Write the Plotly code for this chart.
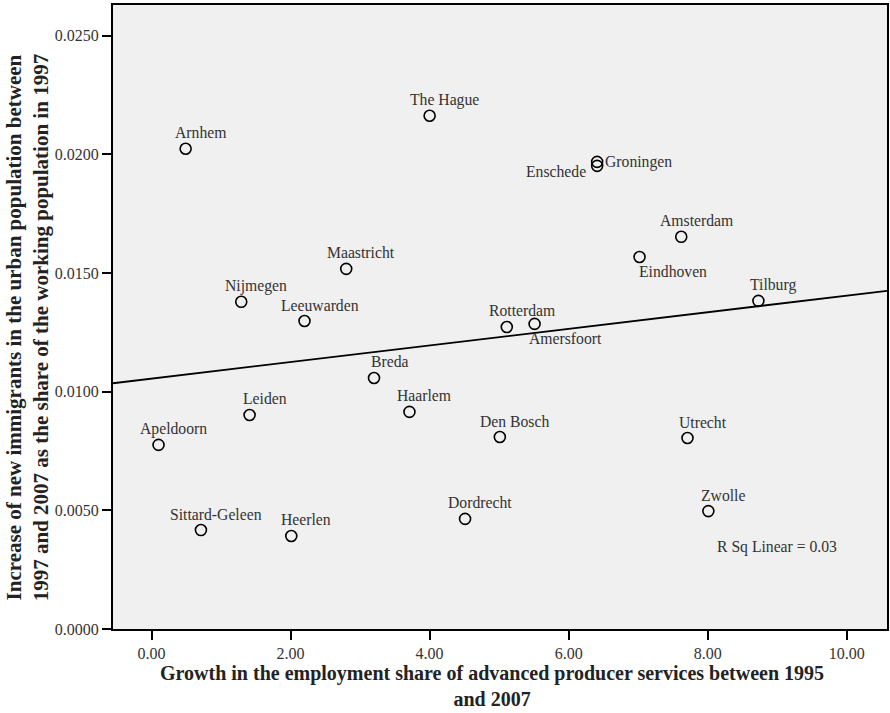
import numpy as np
import plotly.graph_objects as go

cities = ["Arnhem", "The Hague", "Groningen", "Enschede", "Amsterdam", "Eindhoven",
          "Maastricht", "Nijmegen", "Leeuwarden", "Tilburg", "Rotterdam", "Amersfoort",
          "Breda", "Leiden", "Haarlem", "Den Bosch", "Utrecht", "Apeldoorn",
          "Sittard-Geleen", "Heerlen", "Dordrecht", "Zwolle"]
growth_aps = [0.49, 4.00, 6.41, 6.41, 7.62, 7.02,
              2.80, 1.29, 2.20, 8.73, 5.11, 5.51,
              3.20, 1.41, 3.71, 5.01, 7.71, 0.10,
              0.71, 2.01, 4.51, 8.01]
immigrant_increase = [0.02024, 0.02163, 0.01969, 0.01952, 0.01653, 0.01568,
                      0.01518, 0.01379, 0.01298, 0.01383, 0.01273, 0.01286,
                      0.01058, 0.00902, 0.00915, 0.00809, 0.00805, 0.00776,
                      0.00417, 0.00392, 0.00464, 0.00497]
x_ticks = [0, 2, 4, 6, 8, 10]
y_ticks = [0.0, 0.005, 0.010, 0.015, 0.020, 0.025]
r_sq_text = "R Sq Linear = 0.03"
x_title_lines = ["Growth in the employment share of advanced producer services between 1995",
                 "and 2007"]
y_title_lines = ["Increase of new immigrants in the urban population between",
                 "1997 and 2007 as the share of the working population in 1997"]

# label placement (pixel shifts relative to marker)
label_shift = {
    "Groningen": ("left", 6, 0),
    "Enschede": ("right", -9, -6),
    "Eindhoven": ("center", 33, -15),
    "Amersfoort": ("center", 31, -15),
}

X_RANGE = [-0.555, 10.58]
Y_RANGE = [0.0, 0.0263]
SERIF = "Liberation Serif, Times New Roman, serif"
LBL = dict(family=SERIF, size=15.7, color="#333333")

fig = go.Figure()

slope, intercept = np.polyfit(growth_aps, immigrant_increase, 1)
xl = np.array(X_RANGE)
fig.add_trace(go.Scatter(x=xl, y=intercept + slope * xl, mode="lines",
                         line=dict(color="black", width=1.8), hoverinfo="skip",
                         showlegend=False))

fig.add_trace(go.Scatter(x=growth_aps, y=immigrant_increase, mode="markers",
                         marker=dict(symbol="circle-open", size=11,
                                     color="black", line=dict(width=1.6)),
                         showlegend=False))

annotations = []
for c, xv, yv in zip(cities, growth_aps, immigrant_increase):
    anc, dx, dy = label_shift.get(c, ("center", 15, 16))
    annotations.append(dict(x=xv, y=yv, text=c, showarrow=False, xanchor=anc,
                            yanchor="middle", xshift=dx, yshift=dy, font=LBL))

annotations.append(dict(x=9.0, y=0.00346, text=r_sq_text, showarrow=False,
                        xanchor="center", yanchor="middle", font=LBL))

annotations.append(dict(xref="paper", yref="paper", x=0.4897, y=-0.0914,
                        text="<b>" + "<br>".join(x_title_lines) + "</b>",
                        showarrow=False, xanchor="center", yanchor="middle",
                        font=dict(family=SERIF, size=20, color="#222222")))
annotations.append(dict(xref="paper", yref="paper", x=-0.111, y=0.482,
                        text="<b>" + "<br>".join(y_title_lines) + "</b>",
                        showarrow=False, xanchor="center", yanchor="middle",
                        textangle=-90,
                        font=dict(family=SERIF, size=21, color="#222222")))

axis_common = dict(showgrid=False, zeroline=False, showline=True, linecolor="black",
                   linewidth=2, mirror=True, ticks="outside", ticklen=9, tickwidth=2,
                   tickcolor="black",
                   tickfont=dict(family=SERIF, size=16, color="#333333"))

fig.update_layout(
    width=890, height=713,
    margin=dict(l=113, r=1, t=5, b=84),
    paper_bgcolor="white", plot_bgcolor="#f0f0f0",
    annotations=annotations,
    xaxis=dict(range=X_RANGE, tickvals=x_ticks,
               ticktext=[f"{v:.2f}" for v in x_ticks], **axis_common),
    yaxis=dict(range=Y_RANGE, tickvals=y_ticks,
               ticktext=[f"{v:.4f}" for v in y_ticks], **axis_common),
)

fig.write_html("out.html", config={"displayModeBar": False},
               post_script="document.body.style.margin='0';document.body.style.overflow='hidden';")
